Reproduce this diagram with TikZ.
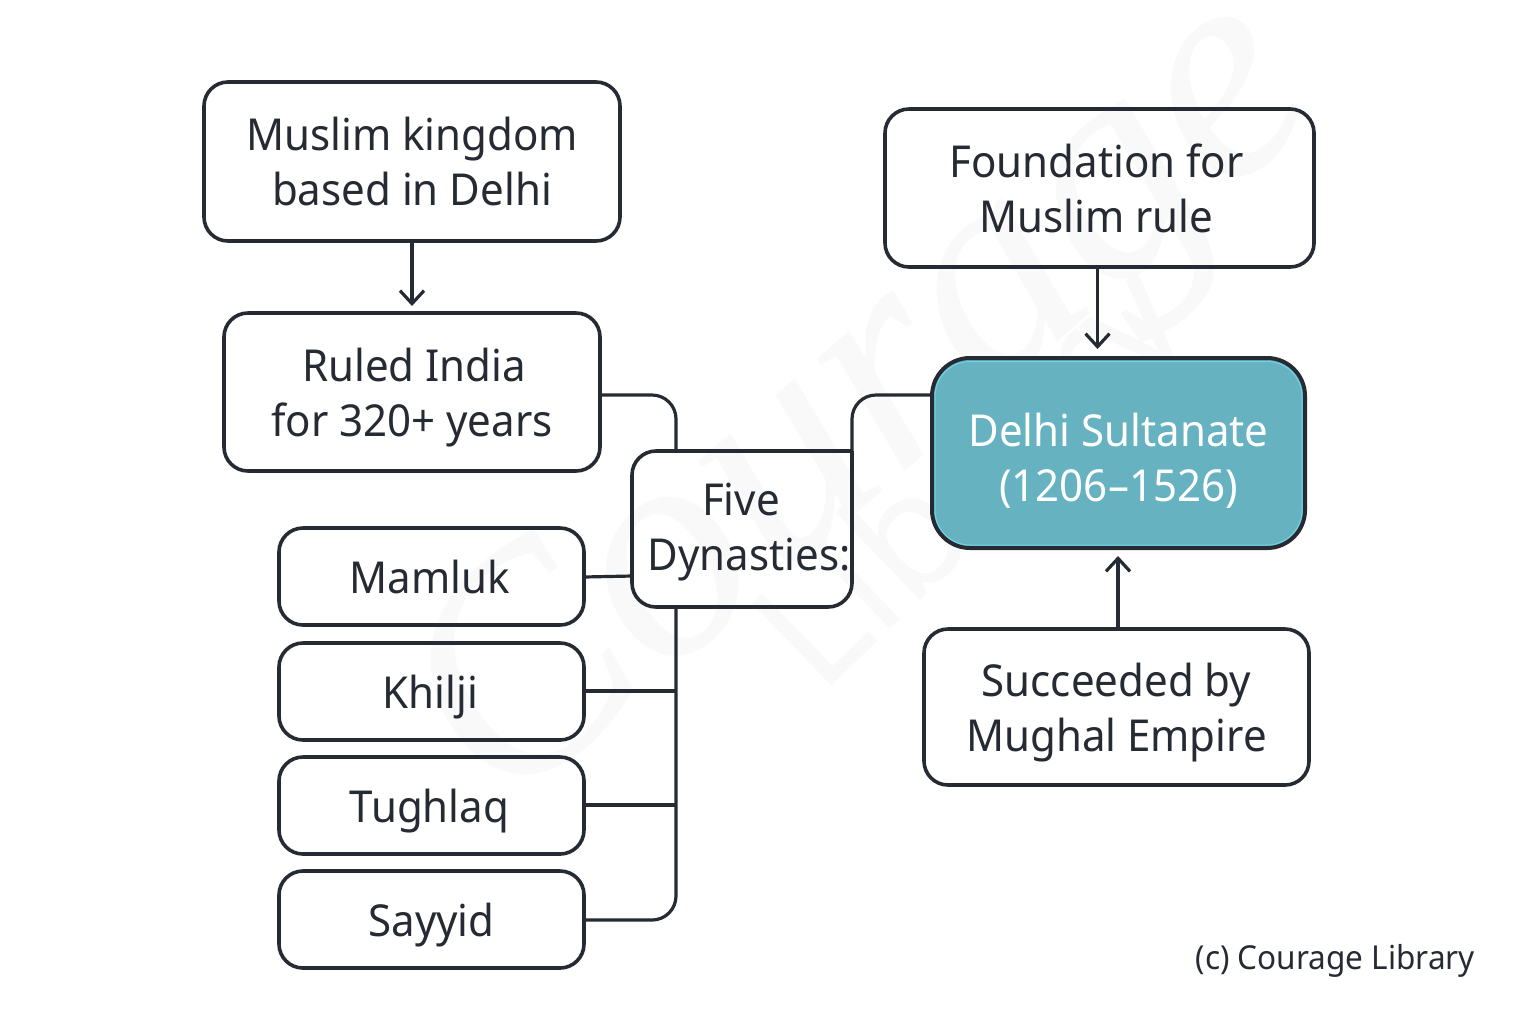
\documentclass[tikz,border=0pt]{standalone}
\usepackage{fontspec}
\setmainfont[FakeStretch=0.955]{Noto Sans}
\newfontfamily\wmscript{Liberation Serif}
\newfontfamily\wmsans{Noto Sans}
\usetikzlibrary{calc,arrows.meta}
\definecolor{ink}{HTML}{262B33}
\definecolor{teal}{HTML}{66B2C0}
\definecolor{tealedge}{HTML}{6FD3E3}
\definecolor{wm}{HTML}{F9F9F9}
\newcommand{\ls}[1][0pt]{\rule[\dimexpr-5.4pt+#1\relax]{0pt}{27.5pt}}
\tikzset{
 px/.style={x=0.5pt,y=-0.5pt},
 box/.style={draw=ink,line width=1.8pt,outer sep=0pt,rounded corners=12pt,align=center,inner sep=0pt,text=ink,font=\fontsize{22}{27.5}\selectfont,anchor=center},
 link/.style={draw=ink,line width=1.6pt,rounded corners=12pt},
 arrow/.style={draw=ink,line width=1.6pt,-{Straight Barb[length=6.5pt,width=12pt,line width=1.6pt]}},
}
\newcommand{\boxat}[5]{\node[box,minimum width=#3*0.5pt-#1*0.5pt,minimum height=#4*0.5pt-#2*0.5pt,#5] at ({(#1+#3)/2},{(#2+#4)/2})}
\begin{document}
\begin{tikzpicture}[px]
\useasboundingbox (0,0) rectangle (1536,1024);
\fill[white] (0,0) rectangle (1536,1024);
\node[text=wm,rotate=40.6,font=\fontsize{155}{165}\selectfont\wmscript\itshape] (watermark) at (870,410) {Courage};
\node[text=wm,rotate=44,font=\fontsize{80}{90}\selectfont\wmsans] (watermarkb) at (980,485) {Library};
\coordinate (ruledport) at (600,395);
\coordinate (delhiport) at (932,395);
\coordinate (fivetop) at (676,451);
\coordinate (fivebot) at (676,607);
\coordinate (fiveright) at (852,451);
\coordinate (bendA) at (676,395);
\coordinate (bendB) at (852,395);
\coordinate (bendC) at (676,920);
\coordinate (sayyidport) at (584,920);
\coordinate (khiljiport) at (584,691);
\coordinate (tughlaqport) at (584,805);
\coordinate (mamlukport) at (584,577);
\coordinate (fiveleft) at (632,576);
\coordinate (khiljitrunk) at (676,691);
\coordinate (tughlaqtrunk) at (676,805);
\coordinate (mka) at (412,241);
\coordinate (mkb) at (412,306);
\coordinate (fa) at (1097.5,267);
\coordinate (fb) at (1097.5,349);
\coordinate (sa) at (1118,629);
\coordinate (sb) at (1118,556);
\draw[link] (ruledport) -- (bendA) -- (fivetop);
\draw[link] (fivebot) -- (bendC) -- (sayyidport);
\draw[link] (khiljiport) -- (khiljitrunk);
\draw[link] (tughlaqport) -- (tughlaqtrunk);
\draw[link] (mamlukport) -- (fiveleft);
\draw[arrow] (mka) -- (mkb);
\draw[arrow] (fa) -- (fb);
\draw[arrow] (sa) -- (sb);
\boxat{204}{82}{620}{241}{} (muslim) {\ls Muslim kingdom\\\ls based in Delhi};
\boxat{224}{313}{600}{471}{} (ruled) {\ls\hspace*{2pt}Ruled India\\\ls for 320+ years};
\boxat{885}{109}{1314}{267}{} (foundation) {\ls\hspace*{-3pt}Foundation for\\\ls\hspace*{-3pt}Muslim rule};
\boxat{924}{629}{1309}{785}{} (succeeded) {\ls Succeeded by\\\ls Mughal Empire};
\boxat{279}{528}{584}{625}{} (mamluk) {\ls\hspace*{-2pt}Mamluk};
\boxat{279}{643}{584}{740}{} (khilji) {\ls\hspace*{-1pt}Khilji};
\boxat{279}{757}{584}{854}{} (tughlaq) {\ls\hspace*{-2pt}Tughlaq};
\boxat{279}{871}{584}{968}{} (sayyid) {\ls Sayyid};
\boxat{632}{451}{852}{607}{draw=none} (five) {\ls[-1.2pt]\hspace*{-1pt}Five\\\ls[-1.2pt]\hspace*{7pt}Dynasties:};
\draw[link,line width=1.8pt] (five.north east) -- (five.south east) -- (five.south west) -- (five.north west) -- (five.north east);
\boxat{932}{358}{1305}{548}{fill=teal,text=white,rounded corners=19pt,line width=2pt} (delhi) {\ls[2pt]Delhi Sultanate\\\ls[2pt](1206–1526)};
\draw[tealedge,line width=0.5pt,rounded corners=17.5pt] (935,361.5) rectangle (1302,545);
\draw[link] (delhiport) -- (bendB) -- (fiveright);
\node[text=ink,anchor=east,font=\fontsize{16.5}{20}\selectfont] (credit) at (1482,961) {(c) Courage Library};
\end{tikzpicture}
\end{document}
